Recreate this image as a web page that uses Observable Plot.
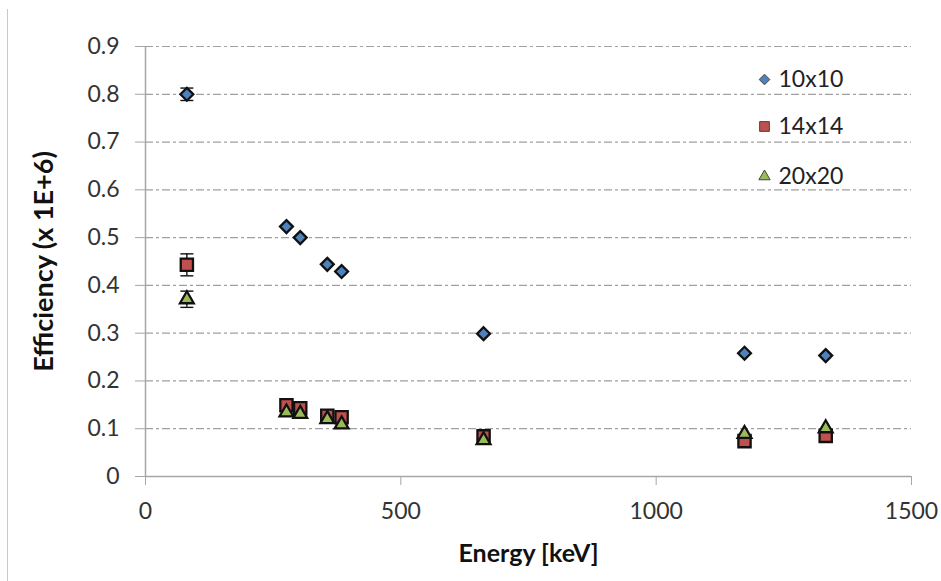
<!DOCTYPE html>
<html>
<head>
<meta charset="utf-8">
<script src="https://cdn.jsdelivr.net/npm/d3@7"></script>
<script src="https://cdn.jsdelivr.net/npm/@observablehq/plot@0.6"></script>
<style>
  html, body { margin: 0; padding: 0; background: #fff; }
  #wrap { position: relative; width: 941px; height: 581px; }
  #edge { position: absolute; left: 7px; top: 9px; bottom: 0; border-left: 1px solid #c8c8c8; }
  #chart svg { display: block; }
</style>
</head>
<body>
<div id="wrap"><div id="edge"></div><div id="chart"></div></div>
<script>
// ---- data ----
const energies = [81, 276, 303, 356, 384, 662, 1173, 1332];
const eff10x10 = [0.800, 0.523, 0.500, 0.444, 0.429, 0.299, 0.258, 0.253];
const eff14x14 = [0.443, 0.149, 0.143, 0.127, 0.124, 0.084, 0.074, 0.085];
const eff20x20 = [0.371, 0.134, 0.131, 0.120, 0.109, 0.076, 0.089, 0.101];
const err10x10 = [0.013, 0, 0, 0, 0, 0, 0, 0];
const err14x14 = [0.023, 0, 0, 0, 0, 0, 0, 0];
const err20x20 = [0.017, 0, 0, 0, 0, 0, 0, 0];
const seriesNames = ["10x10", "14x14", "20x20"];
const xTicks = [0, 500, 1000, 1500];
const yTicks = [0, 0.1, 0.2, 0.3, 0.4, 0.5, 0.6, 0.7, 0.8, 0.9];
const xLabel = "Energy [keV]";
const yLabel = "Efficiency (x 1E+6)";

// ---- styles ----
const colors = ["#4F81BD", "#C0504D", "#9BBB59"];
const symbols = ["diamond2", "square2", "triangle2"];
const radii = [5.8, 7.8, 6.6];
const values = [eff10x10, eff14x14, eff20x20];
const errs = [err10x10, err14x14, err20x20];

const rows = [];
seriesNames.forEach((s, i) => energies.forEach((e, j) => rows.push({series: s, idx: i, energy: e, eff: values[i][j], err: errs[i][j]})));
const errRows = rows.filter(d => d.err > 0);

const capSymbol = {
  draw(ctx, size) {
    const w = Math.sqrt(size / Math.PI);
    ctx.moveTo(-w, 0);
    ctx.lineTo(w, 0);
  }
};

const gridTicks = yTicks.filter(t => t > 0);
const axisColor = "#a6a6a6";
const textColor = "#333";

const marks = [
  Plot.ruleY(gridTicks, {stroke: "#a0a0a0", strokeWidth: 1.2, strokeDasharray: "8,3,3,3"}),
  Plot.ruleY([0], {stroke: axisColor, strokeWidth: 1.5}),
  Plot.ruleX([0], {y1: 0, y2: 0.9, stroke: axisColor, strokeWidth: 1.5}),
  Plot.axisY({ticks: yTicks, tickSize: 10, tickPadding: 16, tickFormat: d => String(+d.toFixed(1)), stroke: axisColor, fill: textColor, label: null}),
  Plot.axisX({ticks: xTicks, tickSize: 9, tickPadding: 17, tickFormat: d => String(d), stroke: axisColor, fill: textColor, label: null}),
  // error bars
  Plot.ruleX(errRows, {x: "energy", y1: d => d.eff - d.err, y2: d => d.eff + d.err, stroke: "#111", strokeWidth: 1.4}),
  Plot.dot(errRows, {x: "energy", y: d => d.eff - d.err, symbol: capSymbol, r: 6.5, stroke: "#111", strokeWidth: 1.4}),
  Plot.dot(errRows, {x: "energy", y: d => d.eff + d.err, symbol: capSymbol, r: 6.5, stroke: "#111", strokeWidth: 1.4}),
  // series markers
  ...seriesNames.map((s, i) => Plot.dot(rows.filter(d => d.idx === i), {
    x: "energy", y: "eff", symbol: symbols[i], r: radii[i],
    fill: colors[i], stroke: "#111", strokeWidth: 2.3
  })),
  // legend
  ...seriesNames.map((s, i) => Plot.dot([s], {
    frameAnchor: "top-right", dx: -147, dy: [33, 80, 130][i],
    symbol: symbols[i], r: [4.8, 6.2, 5.4][i], fill: colors[i], stroke: "#444", strokeWidth: 1
  })),
  ...seriesNames.map((s, i) => Plot.text([s], {
    text: d => d, frameAnchor: "top-right", dx: -133, dy: [33, 80, 130][i],
    textAnchor: "start", lineAnchor: "middle", fontSize: 23, fill: "#222"
  })),
  // axis titles
  Plot.text([xLabel], {text: d => d, frameAnchor: "bottom", dy: 77, textAnchor: "middle", lineAnchor: "middle", fontWeight: "bold", fontSize: 25, fill: "#111"}),
  Plot.text([yLabel], {text: d => d, frameAnchor: "left", dx: -101, rotate: -90, textAnchor: "middle", lineAnchor: "middle", fontWeight: "bold", fontSize: 27, fill: "#111"})
];

const chart = Plot.plot({
  width: 941,
  height: 581,
  marginLeft: 145,
  marginRight: 30,
  marginTop: 46,
  marginBottom: 105,
  style: {fontFamily: "Lato, 'Liberation Sans', sans-serif", fontSize: "23px", background: "white", color: textColor, overflow: "visible"},
  x: {domain: [0, 1500], axis: null},
  y: {domain: [0, 0.9], axis: null},
  marks
});
document.getElementById("chart").appendChild(chart);
</script>
</body>
</html>
